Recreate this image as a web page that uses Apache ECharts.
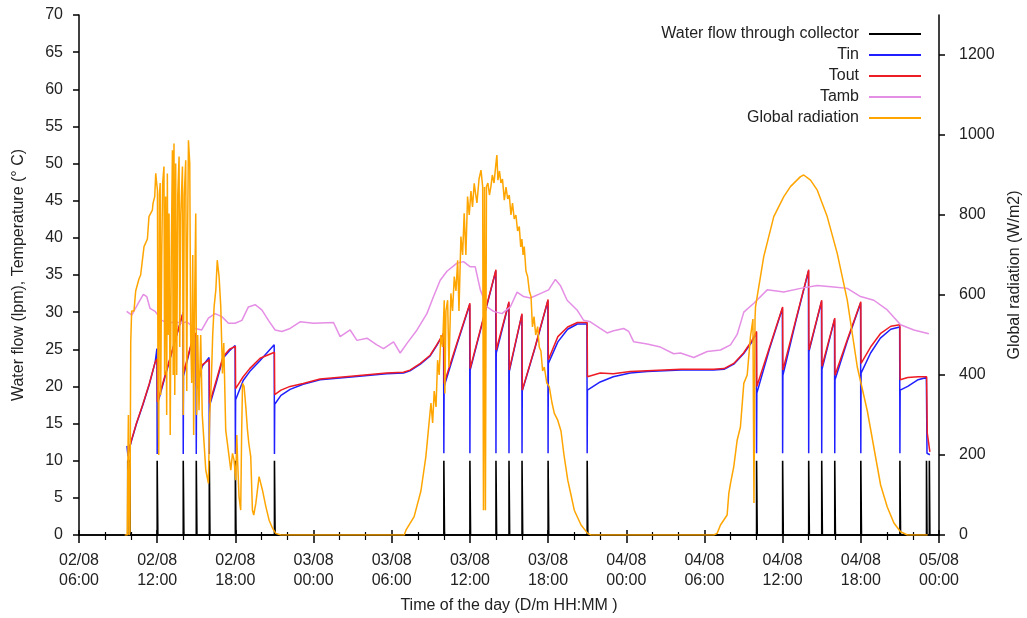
<!DOCTYPE html>
<html lang="en">
<head>
<meta charset="UTF-8">
<title>collector-flow-temperature</title>
<style>
  html, body { margin: 0; padding: 0; background: #fff; }
  #chart { width: 1027px; height: 618px; }
</style>
</head>
<body>
<div id="chart"></div>
<script src="https://cdn.jsdelivr.net/npm/echarts@6/dist/echarts.min.js"></script>
<script>
// x values are hours counted from 02/08 00:00
var tickLabels = ['02/08\n06:00', '02/08\n12:00', '02/08\n18:00', '03/08\n00:00', '03/08\n06:00', '03/08\n12:00',
  '03/08\n18:00', '04/08\n00:00', '04/08\n06:00', '04/08\n12:00', '04/08\n18:00', '05/08\n00:00']

// pump on / off times (h) and flow while on (lpm)
var flowPulses = [[9.74, 9.92], [12.0, 12.05], [14.0, 14.05], [15.0, 15.05], [16.0, 16.05], [18.0, 18.05], [21.0, 21.05],
  [34.0, 34.05], [36.0, 36.05], [38.0, 38.05], [39.0, 39.05], [40.0, 40.05], [42.0, 42.05], [45.0, 45.05],
  [58.0, 58.05], [60.0, 60.05], [62.0, 62.05], [63.0, 63.05], [64.0, 64.05], [66.0, 66.05], [69.0, 69.05],
  [71.04, 71.08], [71.26, 71.3]]
var flowOn = 10

var tin = [[9.68, 12.0], [9.76, 10.6], [9.82, 11.3], [10.0, 12.5], [10.4, 14.9], [10.9, 17.5], [11.4, 20.3], [11.85, 23.3], [11.98, 25.1], [12.0, 10.9],
  [12.02, 17.6], [13.0, 23.8], [13.98, 29.9], [14.0, 10.9],
  [14.02, 21.4], [14.35, 23.8], [14.65, 25.9], [14.98, 27.1], [15.0, 10.9],
  [15.02, 19.6], [15.45, 22.7], [15.98, 23.9], [16.0, 10.9],
  [16.02, 17.4], [16.55, 20.6], [17.05, 23.8], [17.55, 24.8], [17.98, 25.5], [18.0, 10.9],
  [18.02, 18.2], [18.6, 20.8], [19.1, 22.0], [19.9, 23.5], [20.98, 25.6], [21.0, 10.9],
  [21.02, 17.6], [21.5, 18.8], [22.2, 19.6], [23.2, 20.3], [24.5, 20.9], [25.8, 21.1], [27.1, 21.3], [28.35, 21.5], [29.6, 21.7], [30.9, 21.8],
  [31.4, 22.1], [32.2, 23.0], [32.95, 24.1], [33.45, 25.5], [33.98, 27.1], [34.0, 11.0],
  [34.02, 20.0], [35.0, 25.6], [35.98, 31.0], [36.0, 11.0],
  [36.02, 22.2], [37.98, 35.5], [38.0, 11.0],
  [38.02, 24.5], [38.98, 31.2], [39.0, 11.0],
  [39.02, 22.0], [39.98, 29.6], [40.0, 11.0],
  [40.02, 19.4], [41.0, 25.2], [41.98, 31.5], [42.0, 11.0],
  [42.02, 23.1], [42.75, 26.0], [43.5, 27.7], [44.25, 28.4], [44.98, 28.4], [45.0, 11.0],
  [45.02, 19.5], [46.0, 20.6], [47.0, 21.3], [48.3, 21.8], [49.6, 22.0], [50.9, 22.1], [52.2, 22.2], [53.4, 22.2], [54.7, 22.2], [55.5, 22.3],
  [56.25, 23.0], [57.0, 24.4], [57.65, 26.0], [57.98, 27.2], [58.0, 11.0],
  [58.02, 19.1], [59.0, 25.1], [59.98, 30.5], [60.0, 11.0],
  [60.02, 21.5], [61.0, 28.7], [61.98, 35.5], [62.0, 11.0],
  [62.02, 24.7], [62.98, 31.4], [63.0, 11.0],
  [63.02, 22.3], [63.98, 29.0], [64.0, 11.0],
  [64.02, 20.9], [65.0, 26.3], [65.98, 31.2], [66.0, 11.0],
  [66.02, 21.8], [66.75, 24.5], [67.5, 26.5], [68.3, 27.7], [68.98, 28.0], [69.0, 11.0],
  [69.02, 19.5], [69.6, 20.0], [70.4, 20.9], [71.03, 21.2], [71.08, 11.0], [71.3, 10.8]]

var tout = [[9.78, 11.0], [10.0, 12.6], [10.4, 15.0], [10.9, 17.6], [11.4, 20.4], [11.85, 23.3], [12.0, 23.7],
  [12.02, 17.9], [13.0, 23.9], [14.0, 30.0],
  [14.02, 21.8], [14.35, 24.0], [14.65, 26.0], [15.0, 27.2],
  [15.02, 20.0], [15.45, 22.9], [16.0, 23.6],
  [16.02, 17.7], [16.55, 20.9], [17.05, 24.0], [17.55, 25.0], [18.0, 25.4],
  [18.02, 19.7], [18.6, 21.3], [19.1, 22.4], [19.9, 23.8], [21.0, 24.6],
  [21.02, 18.9], [21.5, 19.5], [22.2, 20.0], [23.2, 20.4], [24.5, 21.0], [25.8, 21.2], [27.1, 21.4], [28.35, 21.6], [29.6, 21.8], [30.9, 21.9],
  [31.4, 22.2], [32.2, 23.1], [32.95, 24.2], [33.45, 25.6], [34.0, 27.2],
  [34.02, 20.4], [35.0, 25.8], [36.0, 31.2],
  [36.02, 22.4], [38.0, 35.7],
  [38.02, 24.9], [39.0, 31.4],
  [39.02, 22.2], [40.0, 29.8],
  [40.02, 19.5], [41.0, 25.3], [42.0, 31.7],
  [42.02, 23.6], [42.75, 26.7], [43.5, 28.0], [44.25, 28.6], [45.0, 28.6],
  [45.02, 21.3], [46.0, 21.8], [47.0, 21.7], [48.3, 22.0], [49.6, 22.1], [50.9, 22.2], [52.2, 22.3], [53.4, 22.3], [54.7, 22.3], [55.5, 22.4],
  [56.25, 23.1], [57.0, 24.5], [57.65, 26.2], [58.0, 27.4],
  [58.02, 20.0], [59.0, 25.3], [60.0, 30.7],
  [60.02, 22.2], [61.0, 28.9], [62.0, 35.7],
  [62.02, 24.9], [63.0, 31.6],
  [63.02, 22.7], [64.0, 29.2],
  [64.02, 21.5], [65.0, 26.5], [66.0, 31.4],
  [66.02, 23.1], [66.75, 25.3], [67.5, 27.1], [68.3, 28.1], [69.0, 28.3],
  [69.02, 20.9], [69.6, 21.2], [70.4, 21.3], [71.05, 21.3], [71.1, 13.7], [71.3, 11.2]]

var tamb = [[9.66, 30.1], [10.05, 29.6], [10.55, 31.2], [10.94, 32.4], [11.2, 32.1], [11.45, 30.5], [11.84, 30.1], [12.35, 28.9],
  [12.86, 28.5], [13.37, 28.7], [13.89, 28.5], [14.27, 28.7], [14.91, 27.8], [15.42, 27.6], [15.93, 29.2], [16.44, 29.8],
  [16.96, 29.4], [17.47, 28.5], [17.98, 28.5], [18.5, 28.9], [19.0, 30.7], [19.52, 31.0], [20.03, 30.3], [20.54, 28.9],
  [21.05, 27.6], [21.57, 27.4], [22.2, 27.8], [22.97, 28.7], [24.0, 28.5], [25.53, 28.6], [26.04, 26.7], [26.81, 27.6],
  [27.33, 26.2], [28.1, 26.5], [28.86, 25.6], [29.37, 25.1], [30.14, 26.0], [30.65, 24.5], [31.17, 25.8], [31.94, 27.6],
  [32.7, 29.8], [33.21, 32.1], [33.72, 34.3], [34.24, 35.5], [35.01, 36.6], [35.51, 36.8], [36.03, 36.1], [36.41, 36.1],
  [36.8, 33.0], [37.31, 30.7], [37.82, 30.1], [38.46, 29.8], [39.1, 30.7], [39.62, 32.7], [40.12, 32.1], [40.64, 31.9],
  [41.4, 32.5], [42.04, 33.0], [42.56, 34.4], [42.94, 33.6], [43.46, 31.6], [44.22, 30.3], [44.73, 28.9], [45.24, 28.7],
  [46.0, 27.8], [46.53, 27.2], [47.03, 27.5], [47.8, 27.8], [48.19, 27.4], [48.57, 26.0], [49.6, 25.7], [50.62, 25.3],
  [51.64, 24.4], [52.16, 24.5], [53.18, 23.9], [54.21, 24.7], [55.23, 24.9], [56.0, 25.6], [56.51, 27.0], [57.02, 30.0],
  [57.79, 31.2], [58.82, 33.0], [60.09, 32.7], [61.37, 33.2], [62.66, 33.6], [63.93, 33.4], [64.96, 33.2], [65.98, 32.1],
  [67.0, 31.6], [68.03, 30.3], [69.05, 28.3], [70.07, 27.6], [71.22, 27.1]]

var radiation = [[9.51, 0], [9.7, 0], [9.74, 150], [9.79, 300], [9.84, 0], [9.91, 10], [9.97, 480], [10.04, 560], [10.22, 560],
  [10.35, 610], [10.6, 640], [10.73, 650], [10.99, 721], [11.25, 740], [11.37, 796], [11.63, 812], [11.68, 829], [11.81, 846],
  [11.89, 904], [11.96, 880], [12.02, 862], [12.06, 400], [12.12, 200], [12.17, 850], [12.23, 880], [12.27, 350], [12.35, 700],
  [12.42, 880], [12.52, 921], [12.57, 400], [12.65, 846], [12.73, 300], [12.78, 904], [12.84, 500], [12.91, 804], [13.0, 250],
  [13.08, 700], [13.17, 962], [13.23, 400], [13.29, 979], [13.35, 350], [13.42, 929], [13.5, 400], [13.58, 850], [13.68, 946],
  [13.73, 470], [13.81, 800], [13.94, 921], [14.0, 300], [14.08, 850], [14.19, 937], [14.27, 360], [14.32, 700], [14.4, 987],
  [14.5, 929], [14.57, 500], [14.65, 380], [14.73, 700], [14.8, 250], [14.88, 600], [14.96, 804], [15.03, 300], [15.11, 500],
  [15.21, 312], [15.34, 500], [15.46, 300], [15.6, 229], [15.73, 162], [15.93, 129], [16.03, 300], [16.15, 380], [16.26, 500],
  [16.37, 571], [16.5, 612], [16.61, 687], [16.75, 646], [16.88, 571], [17.01, 404], [17.11, 480], [17.26, 262], [17.52, 196],
  [17.65, 162], [17.78, 204], [17.9, 187], [18.03, 137], [18.11, 250], [18.18, 180], [18.28, 96], [18.41, 62], [18.48, 250],
  [18.55, 379], [18.67, 371], [18.8, 321], [18.93, 262], [19.03, 230], [19.18, 196], [19.31, 62], [19.41, 50], [19.57, 79],
  [19.82, 146], [19.95, 150], [20.08, 112], [20.34, 71], [20.59, 37], [20.85, 17], [21.1, 4], [21.49, 0],
  [30.96, 0], [31.09, 12], [31.72, 46], [32.24, 110], [32.62, 196], [33.01, 330], [33.14, 280], [33.26, 360], [33.4, 320],
  [33.52, 437], [33.64, 400], [33.77, 500], [33.9, 470],
  [34.03, 587], [34.08, 354], [34.16, 560], [34.29, 587], [34.39, 420], [34.54, 604], [34.67, 560], [34.8, 646], [34.93, 610],
  [35.06, 687], [35.16, 560], [35.31, 746], [35.44, 700], [35.56, 804], [35.69, 700], [35.82, 846], [35.95, 800],
  [36.08, 860], [36.2, 820], [36.33, 879], [36.45, 850], [36.54, 830], [36.7, 890], [36.85, 912], [36.98, 871],
  [37.04, 62], [37.12, 870], [37.19, 62], [37.27, 871], [37.38, 880], [37.5, 850], [37.61, 871], [37.72, 900], [37.85, 880],
  [38.0, 929], [38.07, 950], [38.15, 887], [38.27, 910], [38.38, 880], [38.5, 890], [38.64, 837], [38.77, 870], [38.9, 840],
  [39.02, 850], [39.15, 800], [39.27, 830], [39.4, 790], [39.53, 800], [39.66, 760], [39.79, 771], [39.9, 720], [39.99, 740],
  [40.08, 700], [40.17, 721], [40.3, 660], [40.43, 646], [40.56, 610], [40.69, 596], [40.8, 520], [40.92, 546], [41.05, 500],
  [41.2, 521], [41.32, 470], [41.45, 460], [41.58, 410], [41.71, 420], [41.9, 380], [42.09, 371], [42.3, 330], [42.48, 304],
  [42.74, 287], [42.99, 260], [43.22, 200], [43.51, 137], [43.76, 100], [44.01, 62], [44.53, 25], [45.04, 4], [45.29, 0],
  [54.71, 0], [54.97, 4], [55.23, 25], [55.74, 50], [55.87, 104], [56.0, 129], [56.25, 171], [56.51, 237], [56.76, 270],
  [57.02, 379], [57.28, 400], [57.53, 496], [57.72, 540], [57.8, 80], [57.88, 540], [57.92, 571], [58.55, 696], [59.32, 796],
  [60.09, 846], [60.6, 871], [61.37, 896], [61.62, 900], [62.14, 887], [62.66, 862], [63.42, 796], [64.19, 704], [64.96, 587],
  [65.73, 420], [66.5, 310], [67.27, 170], [67.52, 125], [68.03, 70], [68.54, 30], [69.05, 8], [69.57, 0], [71.13, 0]]

// pump pulses drawn as rectangles on/off
var flow = []
flowPulses.forEach(function (p) {
  flow.push([p[0], 0], [p[0], flowOn], [p[1], flowOn], [p[1], 0])
})

var font = '"Liberation Sans", Arial, sans-serif'
var myChart = echarts.init(document.getElementById('chart'))

function lineSeries (name, data, color, yIndex, width) {
  return {
    name: name,
    type: 'line',
    data: data,
    xAxisIndex: 0,
    yAxisIndex: yIndex,
    symbol: 'none',
    lineStyle: { color: color, width: width },
    itemStyle: { color: color }
  }
}

var option = {
  animation: false,
  backgroundColor: '#fff',
  textStyle: { fontFamily: font },
  grid: { left: 79, right: 88, top: 15, bottom: 83, outerBoundsMode: 'none' },
  legend: {
    orient: 'vertical',
    right: 106,
    top: 26,
    padding: 0,
    align: 'right',
    icon: 'rect',
    itemWidth: 52,
    itemHeight: 2,
    itemGap: 5,
    textStyle: { fontSize: 16, color: '#222', fontFamily: font, padding: [0, 5, 0, 0] },
    data: ['Water flow through collector', 'Tin', 'Tout', 'Tamb', 'Global radiation']
  },
  xAxis: [
    {
      type: 'value',
      min: 6,
      max: 72,
      interval: 6,
      name: 'Time of the day (D/m HH:MM )',
      nameLocation: 'middle',
      nameGap: 63,
      nameTextStyle: { fontSize: 16, color: '#222' },
      axisLine: { lineStyle: { color: '#000', width: 1.5 } },
      axisTick: { length: 8, lineStyle: { color: '#000', width: 1.5 } },
      minorTick: { show: true, splitNumber: 3, length: 5, lineStyle: { color: '#000', width: 1.2 } },
      splitLine: { show: false },
      axisLabel: {
        margin: 16,
        fontSize: 16,
        lineHeight: 20,
        color: '#222',
        showMinLabel: true,
        showMaxLabel: true,
        formatter: function (v) { return tickLabels[Math.round((v - 6) / 6)] }
      }
    },
    {
      type: 'value',
      position: 'top',
      min: 6,
      max: 72,
      interval: 6,
      axisLine: { lineStyle: { color: '#000', width: 1.5 } },
      axisTick: { length: 5, lineStyle: { color: '#000', width: 1.5 } },
      minorTick: { show: true, splitNumber: 3, length: 3, lineStyle: { color: '#000', width: 1.2 } },
      splitLine: { show: false },
      axisLabel: { show: false }
    }
  ],
  yAxis: [
    {
      type: 'value',
      min: 0,
      max: 70,
      interval: 5,
      name: 'Water flow (lpm), Temperature (° C)',
      nameLocation: 'middle',
      nameRotate: 90,
      nameGap: 52,
      nameTextStyle: { fontSize: 16, color: '#222' },
      axisLine: { show: true, lineStyle: { color: '#000', width: 1.5 } },
      axisTick: { length: 6, lineStyle: { color: '#000', width: 1.5 } },
      splitLine: { show: false },
      axisLabel: { fontSize: 16, color: '#222', margin: 16 }
    },
    {
      type: 'value',
      min: 0,
      max: 1300,
      interval: 200,
      position: 'right',
      name: 'Global radiation (W/m2)',
      nameLocation: 'middle',
      nameRotate: 90,
      nameGap: 68,
      nameTextStyle: { fontSize: 16, color: '#222' },
      axisLine: { show: true, lineStyle: { color: '#000', width: 1.5 } },
      axisTick: { length: 6, lineStyle: { color: '#000', width: 1.5 } },
      splitLine: { show: false },
      axisLabel: { fontSize: 16, color: '#222', margin: 20, showMaxLabel: false, formatter: function (v) { return String(v) } }
    }
  ],
  series: [
    lineSeries('Water flow through collector', flow, '#000000', 0, 1.6),
    lineSeries('Tin', tin, '#1f1fff', 0, 1.5),
    lineSeries('Tout', tout, '#ee1c24', 0, 1.5),
    lineSeries('Tamb', tamb, '#e58ee5', 0, 1.5),
    lineSeries('Global radiation', radiation, '#ffa500', 1, 1.5)
  ]
}
myChart.setOption(option)
</script>
</body>
</html>
